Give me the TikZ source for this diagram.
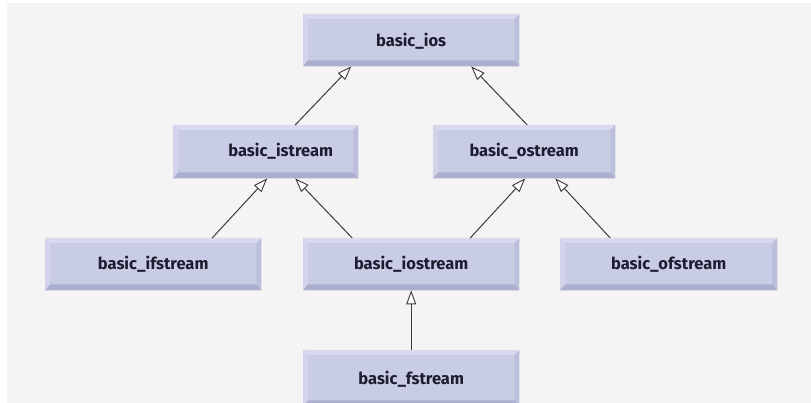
\documentclass[tikz,border=0pt]{standalone}
\usepackage{fontspec}
\setmainfont{Fira Sans}
\usetikzlibrary{arrows.meta}
\definecolor{bg}{HTML}{F4F4F4}
\definecolor{face}{HTML}{C9CCE5}
\definecolor{bevlight}{HTML}{D8DBEE}
\definecolor{bevdark}{HTML}{ABAFCD}
\definecolor{bevside}{HTML}{BBBFDB}
\definecolor{txt}{HTML}{1C1D2E}
\definecolor{ln}{HTML}{3A3A3A}
\tikzset{
  cls/.style={rectangle, fill=face, inner sep=0pt, text=txt,
    font=\fontsize{16.5}{18}\selectfont\bfseries, anchor=north west},
  inh/.style={draw=ln, line width=1pt,
    -{Triangle[length=14pt,width=10pt,fill=white,line width=0.9pt]}}
}
\newcommand{\bevel}[1]{%
  \fill[bevlight] (#1.north west) -- (#1.north east) -- ([shift={(-5pt,-5pt)}]#1.north east) -- ([shift={(5pt,-5pt)}]#1.north west) -- cycle;
  \fill[bevlight!60!face] (#1.north west) -- ([shift={(5pt,-5pt)}]#1.north west) -- ([shift={(5pt,6pt)}]#1.south west) -- (#1.south west) -- cycle;
  \fill[bevside] (#1.north east) -- ([shift={(-5pt,-5pt)}]#1.north east) -- ([shift={(-5pt,6pt)}]#1.south east) -- (#1.south east) -- cycle;
  \fill[bevdark] (#1.south west) -- (#1.south east) -- ([shift={(-5pt,6pt)}]#1.south east) -- ([shift={(5pt,6pt)}]#1.south west) -- cycle;
}
\begin{document}
\begin{tikzpicture}[x=1pt,y=-1pt]
\useasboundingbox (0,0) rectangle (811,403);
\clip (0,0) rectangle (811,403);
\fill[bg] (7,3) rectangle (811,403);
% boxes
\node[cls, minimum width=216pt, minimum height=52pt] (ios) at (303,14) {};
\node[cls, minimum width=185pt, minimum height=53pt] (ist) at (173,125) {};
\node[cls, minimum width=182pt, minimum height=53pt] (ost) at (433,125) {};
\node[cls, minimum width=216pt, minimum height=52pt] (ifs) at (45,238) {};
\node[cls, minimum width=216pt, minimum height=52pt] (iost) at (303,238) {};
\node[cls, minimum width=217pt, minimum height=52pt] (ofs) at (560,238) {};
\node[cls, minimum width=216pt, minimum height=56pt] (fst) at (303,350) {};
\foreach \n in {ios,ist,ost,ifs,iost,ofs,fst} {\bevel{\n}}
% labels
\node[cls, anchor=center, fill=none] at ([yshift=-1pt]ios.center) {basic\_ios};
\node[cls, anchor=center, fill=none] at ([xshift=15pt]ist.center) {basic\_istream};
\node[cls, anchor=center, fill=none] at (ost.center) {basic\_ostream};
\node[cls, anchor=center, fill=none] at (ifs.center) {basic\_ifstream};
\node[cls, anchor=center, fill=none] at (iost.center) {basic\_iostream};
\node[cls, anchor=center, fill=none] at (ofs.center) {basic\_ofstream};
\node[cls, anchor=center, fill=none] at ([yshift=-1pt]fst.center) {basic\_fstream};
% inheritance arrows
\draw[inh] ([xshift=29.5pt]ist.north) -- ([xshift=-60pt]ios.south);
\draw[inh] ([xshift=3pt]ost.north) -- ([xshift=60pt]ios.south);
\draw[inh] ([xshift=59pt]ifs.north) -- ([xshift=1.5pt]ist.south);
\draw[inh] ([xshift=-59pt]iost.north) -- ([xshift=29.5pt]ist.south);
\draw[inh] ([xshift=59pt]iost.north) -- ([xshift=1pt]ost.south);
\draw[inh] ([xshift=-58.5pt]ofs.north) -- ([xshift=31pt]ost.south);
\draw[inh] (fst.north) -- (iost.south);
\end{tikzpicture}
\end{document}
